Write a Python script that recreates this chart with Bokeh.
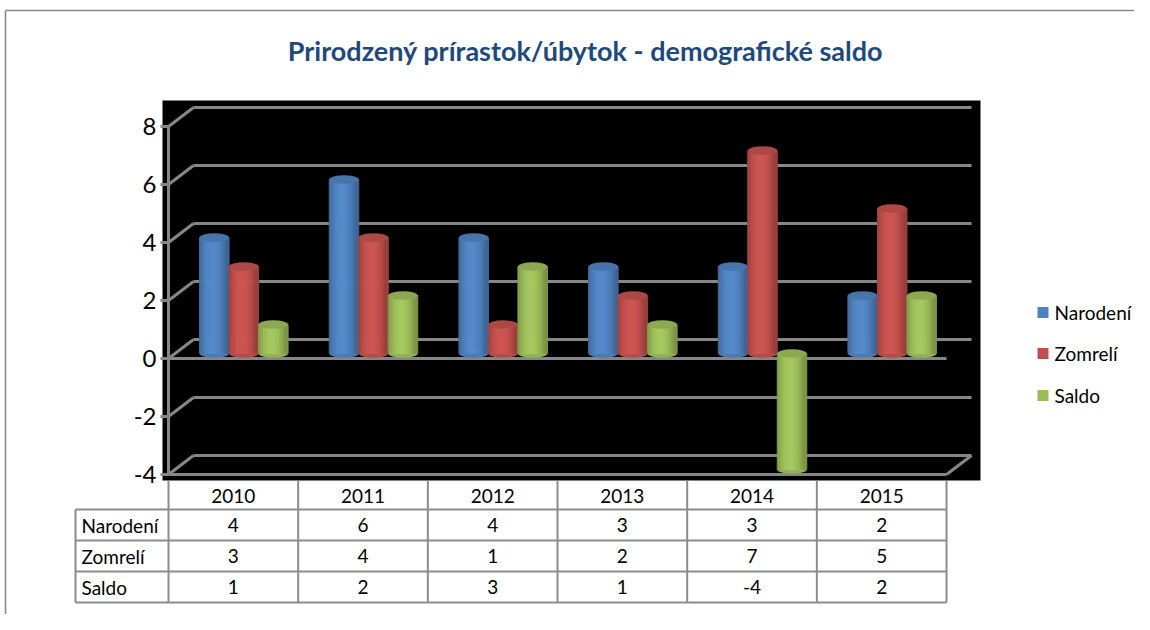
import numpy as np
from bokeh.plotting import figure
from bokeh.models import Range1d, ColumnDataSource
from bokeh.core.properties import value
from bokeh.embed import file_html
from bokeh.resources import INLINE

# ---------------- data ----------------
title_text = "Prirodzený prírastok/úbytok - demografické saldo"
years = ["2010", "2011", "2012", "2013", "2014", "2015"]
series_names = ["Narodení", "Zomrelí", "Saldo"]
narodeni = [4, 6, 4, 3, 3, 2]
zomreli = [3, 4, 1, 2, 7, 5]
saldo = [1, 2, 3, 1, -4, 2]
y_ticks = [-4, -2, 0, 2, 4, 6, 8]
series_colors = ["#4F81BD", "#C0504D", "#9BBB59"]
series = [narodeni, zomreli, saldo]

# ---------------- layout helpers (pixel layout -> data units) ----------------
W, H = 1134, 614
ORG = 0                   # image position of the canvas origin
X0, CAT = 168.0, 129.67   # image x of category-axis start, px per category
Y0, UNIT = 358.0, 29.0    # image y of front zero, px per value unit
FONT = value("Lato")


def X(px):
    return (px - X0) / CAT


def Y(py):
    return (Y0 - py) / UNIT


def DX(px):
    return px / CAT


def DY(py):
    return py / UNIT


p = figure(width=W, height=H,
           x_range=Range1d(X(ORG), X(ORG + W)),
           y_range=Range1d(Y(ORG + H), Y(ORG)),
           output_backend="svg", toolbar_location=None,
           x_axis_location=None, y_axis_location=None,
           min_border=0, background_fill_color="white",
           border_fill_color="white")
p.grid.visible = False
p.outline_line_color = None

# outer chart border (top and left edges visible)
p.segment(x0=[X(5), X(5)], y0=[Y(10), Y(10)],
          x1=[X(ORG + W), X(5)], y1=[Y(10), Y(ORG + H)],
          line_color="#8A8A8A", line_width=1.6)

# title
p.text(x=[X(585)], y=[Y(50)], text=[title_text], text_font=FONT,
       text_font_size=value("27px"), text_font_style="bold",
       text_color="#1F497D", text_align="center", text_baseline="middle")

# black plot area
p.quad(left=[X(162)], right=[X(980)], top=[Y(100)], bottom=[Y(480)],
       fill_color="black", line_color=None)

# 3D gridlines
ncat = len(years)
bdx, bdy = DX(25), DY(19)
vmin, vmax = min(y_ticks), max(y_ticks)
gx0, gy0, gx1, gy1 = [], [], [], []
for v in y_ticks:
    gx0 += [bdx]; gy0 += [v + bdy]; gx1 += [ncat + bdx]; gy1 += [v + bdy]
    gx0 += [0]; gy0 += [v]; gx1 += [bdx]; gy1 += [v + bdy]
    gx0 += [X(160)]; gy0 += [v]; gx1 += [0]; gy1 += [v]
gx0 += [0]; gy0 += [vmin]; gx1 += [0]; gy1 += [vmax]
for v in [0, vmin]:
    gx0 += [0]; gy0 += [v]; gx1 += [ncat]; gy1 += [v]
gx0 += [ncat]; gy0 += [vmin]; gx1 += [ncat + bdx]; gy1 += [vmin + bdy]
p.segment(x0=gx0, y0=gy0, x1=gx1, y1=gy1, line_color="#878787",
          line_width=3)

# tick labels
p.text(x=[X(156)] * len(y_ticks), y=y_ticks, text=[str(t) for t in y_ticks],
       text_font=FONT, text_font_size=value("24px"), text_color="black",
       text_align="right", text_baseline="middle")

# ---------------- cylinders ----------------
bar_dx, bar_dy = DX(10.5), DY(5)
bw = DX(29.5)
eh = DY(8.5)
NSTRIP = 24


def shade(hexcol, f):
    r, g, b = int(hexcol[1:3], 16), int(hexcol[3:5], 16), int(hexcol[5:7], 16)
    c = [min(255, max(0, int(round(ch * f)))) for ch in (r, g, b)]
    return "#%02x%02x%02x" % tuple(c)


ts = (np.arange(NSTRIP) + 0.5) / NSTRIP
profile = 0.80 + 0.28 * np.sin(np.pi * np.clip(ts * 1.1, 0, 1)) ** 0.8

sl, sr, st, sb, sc = [], [], [], [], []
ex_b, ey_b, ec_b = [], [], []
ex_t, ey_t, ec_t = [], [], []
for s, vals in enumerate(series):
    col = series_colors[s]
    for i, v in enumerate(vals):
        xc = i + 0.5 + bar_dx + (s - 1) * bw
        base = bar_dy
        end = v + bar_dy
        top, bot = max(base, end), min(base, end)
        left = xc - bw / 2
        for k in range(NSTRIP):
            sl.append(left + k * bw / NSTRIP)
            sr.append(left + (k + 1) * bw / NSTRIP)
            st.append(top)
            sb.append(bot)
            sc.append(shade(col, profile[k]))
        ex_b.append(xc); ey_b.append(bot); ec_b.append(shade(col, 0.95))
        ex_t.append(xc); ey_t.append(top); ec_t.append(shade(col, 0.90))

p.ellipse(x=ex_b, y=ey_b, width=bw, height=eh, fill_color=ec_b,
          line_color=None)
p.quad(source=ColumnDataSource(dict(left=sl, right=sr, top=st, bottom=sb,
                                    color=sc)),
       left="left", right="right", top="top", bottom="bottom",
       fill_color="color", line_color="color", line_width=1)
p.ellipse(x=ex_t, y=ey_t, width=bw, height=eh, fill_color=ec_t,
          line_color=None)

# ---------------- data table ----------------
TBL_LEFT = 75
HDR_TOP = 480
row_lines = [509, 540, 571, 602]
tcol = "#8C8C8C"
tx0, ty0, tx1, ty1 = [], [], [], []
for k in range(ncat + 1):
    tx0 += [k]; ty0 += [Y(HDR_TOP)]; tx1 += [k]; ty1 += [Y(row_lines[-1])]
tx0 += [X(TBL_LEFT)]; ty0 += [Y(row_lines[0])]
tx1 += [X(TBL_LEFT)]; ty1 += [Y(row_lines[-1])]
for r in row_lines:
    tx0 += [X(TBL_LEFT)]; ty0 += [Y(r)]; tx1 += [ncat]; ty1 += [Y(r)]
p.segment(x0=tx0, y0=ty0, x1=tx1, y1=ty1, line_color=tcol, line_width=2)

TFS = value("19px")
centers = [i + 0.5 for i in range(ncat)]
p.text(x=centers, y=[Y((HDR_TOP + row_lines[0]) / 2 + 1)] * ncat, text=years,
       text_font=FONT, text_font_size=TFS, text_color="black",
       text_align="center", text_baseline="middle")
for r, (name, vals) in enumerate(zip(series_names, series)):
    yc = Y((row_lines[r] + row_lines[r + 1]) / 2)
    p.text(x=[X(TBL_LEFT + 6)], y=[yc], text=[name], text_font=FONT,
           text_font_size=TFS, text_color="black", text_align="left",
           text_baseline="middle")
    p.text(x=centers, y=[yc] * ncat, text=[str(v) for v in vals],
           text_font=FONT, text_font_size=TFS, text_color="black",
           text_align="center", text_baseline="middle")

# ---------------- legend ----------------
leg_y = [312, 353, 395]
p.scatter(x=[X(1042.5)] * 3, y=[Y(v) for v in leg_y], marker="square",
          size=11, fill_color=series_colors, line_color=None)
p.text(x=[X(1054)] * 3, y=[Y(v) for v in leg_y], text=series_names,
       text_font=FONT, text_font_size=TFS, text_color="black",
       text_align="left", text_baseline="middle")

open("out.html", "w").write(file_html(p, INLINE))
